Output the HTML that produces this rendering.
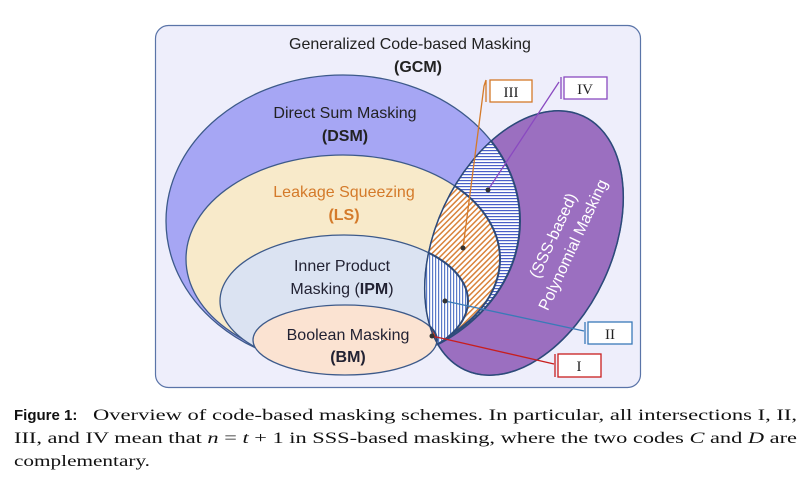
<!DOCTYPE html>
<html><head><meta charset="utf-8"><style>
html,body{margin:0;padding:0;background:#fff;width:808px;height:479px;overflow:hidden}
</style></head><body>
<svg width="808" height="479" viewBox="0 0 808 479" xmlns="http://www.w3.org/2000/svg">
<defs>
<pattern id="hl" width="4" height="3" patternUnits="userSpaceOnUse"><rect width="4" height="3" fill="#fff"/><rect width="4" height="1.2" fill="#4a5fc8"/></pattern>
<pattern id="vl" width="3" height="4" patternUnits="userSpaceOnUse"><rect width="3" height="4" fill="#fff"/><rect width="1.2" height="4" fill="#5a7ac8"/></pattern>
<pattern id="dg" width="4" height="4" patternUnits="userSpaceOnUse" patternTransform="rotate(45)"><rect width="4" height="4" fill="#fff"/><rect width="1.5" height="4" fill="#d9823a"/></pattern>
<clipPath id="pc"><ellipse cx="0" cy="0" rx="88" ry="140" transform="translate(524,243) rotate(25)"/></clipPath>
</defs>
<rect x="155.5" y="25.5" width="485" height="362" rx="13" fill="#eeeefb" stroke="#5a74a8" stroke-width="1.2"/>
<ellipse cx="343" cy="221" rx="177" ry="146" fill="#a6a6f4" stroke="#3d5a8a" stroke-width="1.3"/>
<ellipse cx="343" cy="259" rx="157" ry="104" fill="#f8eaca" stroke="#3d5a8a" stroke-width="1.3"/>
<ellipse cx="344" cy="301" rx="124" ry="66" fill="#dbe3f2" stroke="#3d5a8a" stroke-width="1.3"/>
<ellipse cx="345" cy="340" rx="92" ry="35" fill="#fbe3d2" stroke="#3d5a8a" stroke-width="1.3"/>
<ellipse cx="0" cy="0" rx="88" ry="140" transform="translate(524,243) rotate(25)" fill="#9b6fc0" stroke="#3d5a8a" stroke-width="1.3"/>
<g clip-path="url(#pc)">
<ellipse cx="343" cy="221" rx="177" ry="146" fill="url(#hl)" stroke="#2d4a7a" stroke-width="2"/>
<ellipse cx="343" cy="259" rx="157" ry="104" fill="url(#dg)" stroke="#2d4a7a" stroke-width="2"/>
<ellipse cx="344" cy="301" rx="124" ry="66" fill="url(#vl)" stroke="#2d4a7a" stroke-width="2"/>
<ellipse cx="345" cy="340" rx="92" ry="35" fill="#ff3a0a" stroke="#2d4a7a" stroke-width="2"/>
</g>
<ellipse cx="0" cy="0" rx="88" ry="140" transform="translate(524,243) rotate(25)" fill="none" stroke="#2d4a7a" stroke-width="1.5"/>
<g font-family="Liberation Sans, sans-serif" text-anchor="middle" fill="#222">
<text x="410" y="49" font-size="16">Generalized Code-based Masking</text>
<text x="418" y="72" font-size="16" font-weight="bold">(GCM)</text>
<text x="345" y="118" font-size="16">Direct Sum Masking</text>
<text x="345" y="141" font-size="16" font-weight="bold">(DSM)</text>
<text x="344" y="197" font-size="16" fill="#d47a2a">Leakage Squeezing</text>
<text x="344" y="220" font-size="16" fill="#d47a2a" font-weight="bold">(LS)</text>
<text x="342" y="271" font-size="16" fill="#223">Inner Product</text>
<text x="342" y="294" font-size="16" fill="#223">Masking (<tspan font-weight="bold">IPM</tspan>)</text>
<text x="348" y="340" font-size="16" fill="#223">Boolean Masking</text>
<text x="348" y="362" font-size="16" font-weight="bold" fill="#223">(BM)</text>
<g transform="translate(567,242) rotate(-65)" fill="#fff" font-size="16">
<text x="0" y="-10">(SSS-based)</text>
<text x="0" y="12">Polynomial Masking</text>
</g>
</g>
<g fill="none" stroke-width="1.3">
<path d="M463,248 L484,86 L486,80 M486,80 V102" stroke="#d47a2a"/>
<rect x="490" y="80" width="42" height="22" stroke="#d47a2a" fill="#fff"/>
<path d="M488,190 L559,82 M561,77 V99" stroke="#8a4ac0"/>
<rect x="564" y="77" width="43" height="22" stroke="#8a4ac0" fill="#fff"/>
<path d="M445,301 L584,331 M585,322 V344" stroke="#3a7ab8"/>
<rect x="588" y="322" width="44" height="22" stroke="#3a7ab8" fill="#fff"/>
<path d="M432,336 L554,364 M555,354 V377" stroke="#c81e1e"/>
<rect x="558" y="354" width="43" height="23" stroke="#c81e1e" fill="#fff"/>
</g>
<g fill="#333"><circle cx="463" cy="248" r="2.5"/><circle cx="488" cy="190" r="2.5"/><circle cx="445" cy="301" r="2.5"/><circle cx="432" cy="336" r="2.5"/></g>
<g font-family="Liberation Serif, serif" font-size="15" text-anchor="middle" fill="#222">
<text x="511" y="97">III</text><text x="585" y="94">IV</text><text x="610" y="339">II</text><text x="579" y="371">I</text>
</g>
<g font-family="Liberation Serif, serif" font-size="16" fill="#111">
<text x="14" y="420"><tspan font-family="Liberation Sans, sans-serif" font-weight="bold" font-size="15">Figure 1:</tspan></text>
<text x="93" y="420" textLength="704" lengthAdjust="spacingAndGlyphs">Overview of code-based masking schemes. In particular, all intersections I, II,</text>
<text x="14" y="443" textLength="783" lengthAdjust="spacingAndGlyphs">III, and IV mean that <tspan font-style="italic">n</tspan> = <tspan font-style="italic">t</tspan> + 1 in SSS-based masking, where the two codes <tspan font-style="italic">C</tspan> and <tspan font-style="italic">D</tspan> are</text>
<text x="14" y="466" textLength="136" lengthAdjust="spacingAndGlyphs">complementary.</text>
</g>
</svg>
</body></html>
